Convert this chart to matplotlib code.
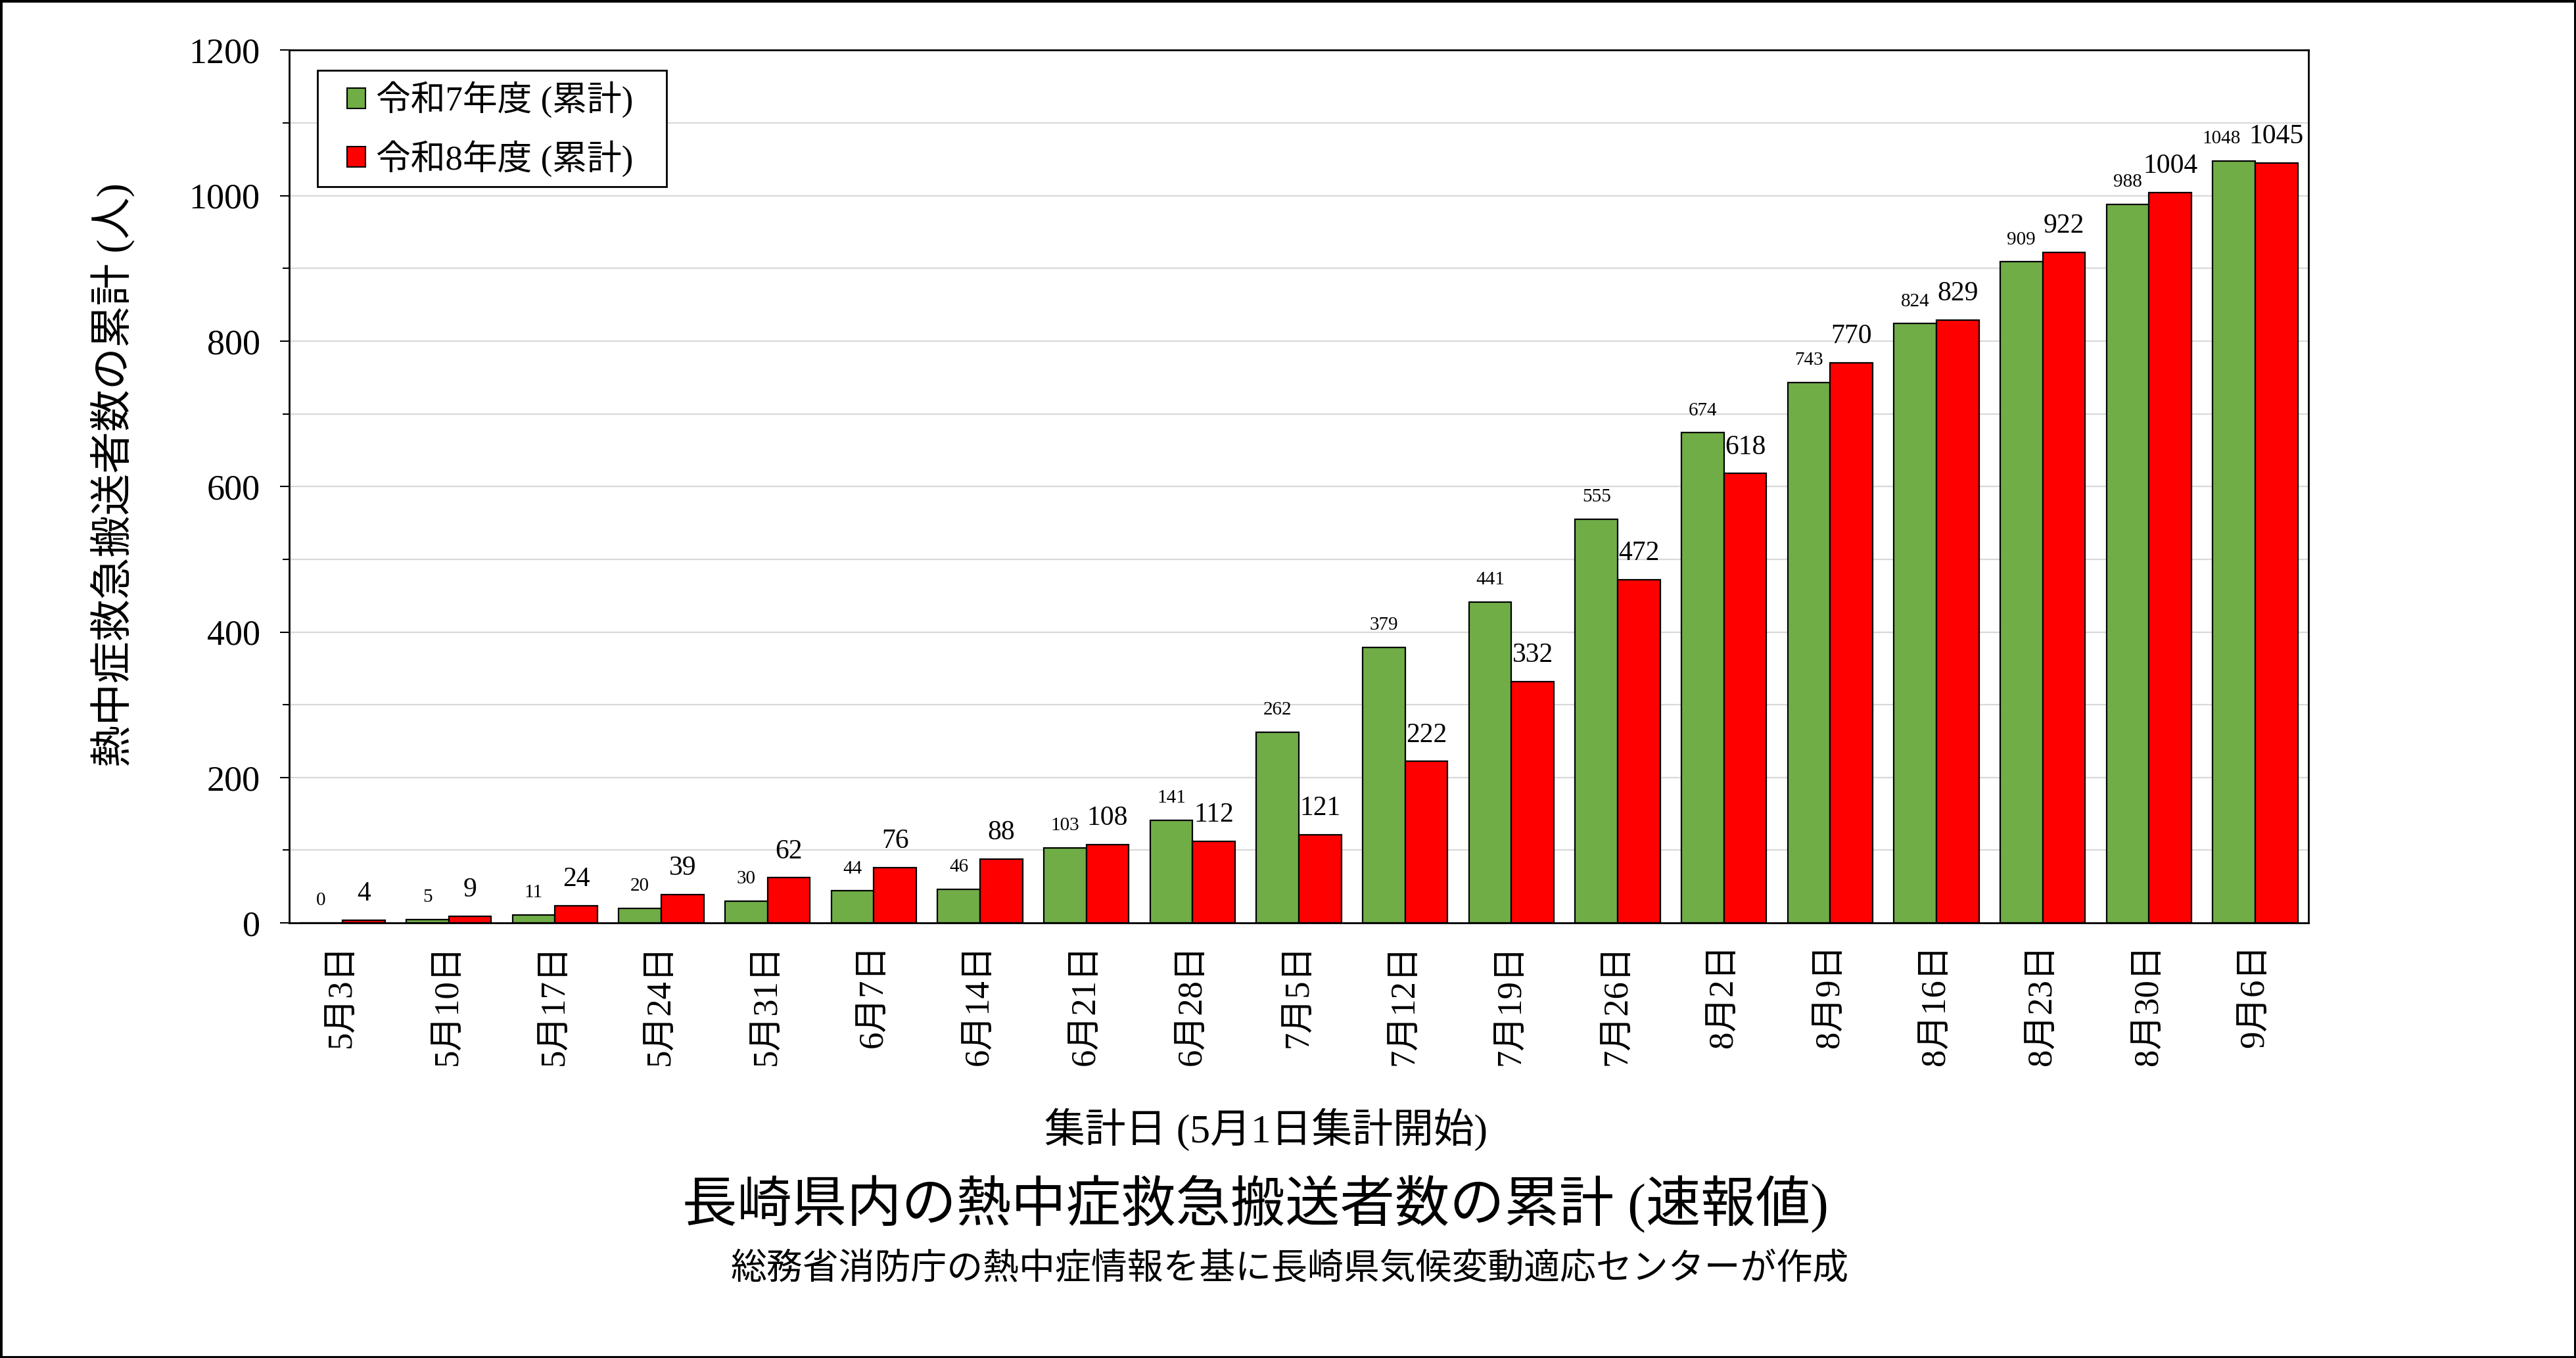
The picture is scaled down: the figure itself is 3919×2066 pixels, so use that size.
import numpy as np
import matplotlib
matplotlib.use("Agg")
import matplotlib.pyplot as plt
from matplotlib.patches import Patch, Rectangle

# Fonts: Times-like digits, gothic kanji as fallback
fam = ["Liberation Serif", "Noto Sans CJK JP"]
plt.rcParams["font.family"] = fam

# Data
dates = ["5月3日", "5月10日", "5月17日", "5月24日", "5月31日", "6月7日", "6月14日",
         "6月21日", "6月28日", "7月5日", "7月12日", "7月19日", "7月26日", "8月2日",
         "8月9日", "8月16日", "8月23日", "8月30日", "9月6日"]
r7 = [0, 5, 11, 20, 30, 44, 46, 103, 141, 262, 379, 441, 555, 674, 743, 824, 909, 988, 1048]
r8 = [4, 9, 24, 39, 62, 76, 88, 108, 112, 121, 222, 332, 472, 618, 770, 829, 922, 1004, 1045]
label7 = "令和7年度 (累計)"
label8 = "令和8年度 (累計)"

#Colors and sizes
c7 = "#70AD47"
c8 = "#FF0000"
bw = 0.4
W, H = 3919, 2066

fig = plt.figure(figsize=(W / 100, H / 100), dpi=100)
ax = fig.add_axes([0.1123, 0.3204, 0.7838, 0.6426])

x = np.arange(len(dates))
ax.bar(x - bw / 2, r7, bw, color=c7, edgecolor="black", linewidth=1.6, zorder=3)
ax.bar(x + bw / 2, r8, bw, color=c8, edgecolor="black", linewidth=1.6, zorder=3)

# value labels
for i in range(len(dates)):
    # 4-digit small labels get nudged left so they don't run into the red label
    dx = -14 if r7[i] >= 1000 else 0
    ax.annotate(str(r7[i]), (x[i] - bw / 2, r7[i]), xytext=(dx, 15), textcoords="offset points",
                ha="center", va="bottom", fontsize=21, zorder=4)
    ax.annotate(str(r8[i]), (x[i] + bw / 2, r8[i]), xytext=(0, 15), textcoords="offset points",
                ha="center", va="bottom", fontsize=30, zorder=4)

ax.set_xlim(-0.5, len(dates) - 0.5)
ax.set_ylim(0, 1200)
ax.set_yticks(np.arange(0, 1201, 200))
ax.set_yticks(np.arange(100, 1200, 200), minor=True)
ax.grid(True, which="both", axis="y", color="#d9d9d9", linewidth=1.6, zorder=0)
ax.tick_params(axis="y", which="major", length=10, width=1.5, pad=22, labelsize=39)
ax.tick_params(axis="y", which="minor", length=7, width=1.5)
ax.set_xticks(x)
ax.set_xticklabels(dates, rotation=90, fontsize=38)
ax.tick_params(axis="x", length=0, pad=23)
for s in ax.spines.values():
    s.set_linewidth(2)
    s.set_color("black")

# legend (frame drawn separately so the padding can differ per side)
handles = [Patch(facecolor=c7, edgecolor="black", linewidth=1.5, label=label7),
           Patch(facecolor=c8, edgecolor="black", linewidth=1.5, label=label8)]
leg = ax.legend(handles=handles, loc="center left", bbox_to_anchor=(528 / W, 1 - 196 / H),
                bbox_transform=fig.transFigure, fontsize=38, frameon=False,
                handlelength=0.53, handleheight=0.55, handletextpad=0.3,
                borderpad=0, labelspacing=0.63, borderaxespad=0)
leg.set_zorder(6)
ax.add_patch(Rectangle((483 / W, 1 - 284 / H), 531 / W, 177 / H, transform=fig.transFigure,
                       facecolor="white", edgecolor="black", linewidth=2, zorder=5))

# texts
fig.text(172 / W, 1 - 723 / H, "熱中症救急搬送者数の累計 (人)", rotation=90,
         ha="center", va="center", fontsize=46)
fig.text(1926 / W, 1 - 1718 / H, "集計日 (5月1日集計開始)", ha="center", va="center", fontsize=44.5)
fig.text(1910 / W, 1 - 1832 / H, "長崎県内の熱中症救急搬送者数の累計 (速報値)",
         ha="center", va="center", fontsize=60)
fig.text(1962 / W, 1 - 1933 / H, "総務省消防庁の熱中症情報を基に長崎県気候変動適応センターが作成",
         ha="center", va="center", fontsize=39.5)

# outer border
fig.add_artist(Rectangle((0, 0), 1, 1, transform=fig.transFigure, fill=False,
                         edgecolor="black", linewidth=5))

fig.savefig("out.png", dpi=100)
